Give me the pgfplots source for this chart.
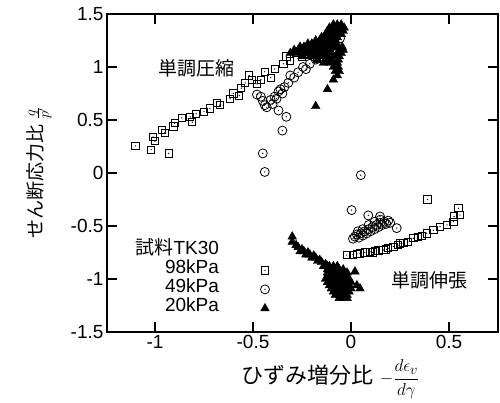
\documentclass[border=0pt]{standalone}
\usepackage{pgfplots}
\pgfplotsset{compat=1.18}
\usepackage{fontspec}
\setmainfont{Liberation Sans}
\newfontfamily\cjk{Noto Sans CJK JP}
\pgfdeclareplotmark{sqdot}{%
  \pgfpathrectangle{\pgfpoint{-\pgfplotmarksize}{-\pgfplotmarksize}}{\pgfpoint{2\pgfplotmarksize}{2\pgfplotmarksize}}%
  \pgfusepathqstroke
  \pgfpathcircle{\pgfpointorigin}{0.7pt}%
  \pgfusepathqfill
}
\pgfdeclareplotmark{circdot}{%
  \pgfpathcircle{\pgfpointorigin}{\pgfplotmarksize}%
  \pgfusepathqstroke
  \pgfpathcircle{\pgfpointorigin}{0.7pt}%
  \pgfusepathqfill
}
\pgfplotsset{tk/.style={forget plot, no marks, line width=1.2pt, black}}
\begin{document}
\begin{tikzpicture}[font=\fontsize{19}{22}\selectfont]
\begin{axis}[
  scale only axis, width=391pt, height=318pt,
  xmin=-1.245, xmax=0.75, ymin=-1.5, ymax=1.5,
  xtick={-1,-0.5,0,0.5}, xticklabels={-1,-0.5,0,0.5},
  ytick={-1.5,-1,-0.5,0,0.5,1,1.5}, yticklabels={-1.5,-1,-0.5,0,0.5,1,1.5},
  minor tick num=0, clip=false,
  tick align=inside, major tick length=10pt,
  major tick style={draw=none},
  axis line style={draw=none},
  every axis x label/.style={at={(axis description cs:0.5,0)}, anchor=center, yshift=-47pt, xshift=28pt},
  every axis y label/.style={at={(axis description cs:0,0.5)}, rotate=90, anchor=center, yshift=68pt},
  xlabel={\fontsize{22}{25}\selectfont{\cjk ひずみ増分比} \fontsize{19}{22}\selectfont$-\displaystyle\frac{d\epsilon_v}{d\gamma}$},
  ylabel={{\cjk せん断応力比} $\frac{q}{p'}$},
  legend style={draw=none, fill=none, at={(axis description cs:0.07,0.284)}, anchor=north west,
    inner sep=0pt, row sep=0pt, column sep=0pt,
    nodes={inner sep=1pt, text height=12pt, text depth=5pt}},
  legend cell align=right, legend plot pos=right,
  legend image code/.code={\path[draw=none] (0pt,0pt) -- (48pt,0pt); \draw[#1] plot coordinates {(45pt,0pt)};},
]
\addlegendimage{empty legend}
\addlegendentry{{\cjk 試料}TK30}
% 98 kPa squares
\addplot[only marks, mark=sqdot, mark size=3.6pt, line width=0.8pt, black] coordinates {
(-1.10,0.255) (-1.02,0.22) (-0.93,0.185) (-1.01,0.34) (-1.00,0.30) (-0.966,0.41) (-0.95,0.38)
(-0.906,0.44) (-0.90,0.47) (-0.864,0.52) (-0.82,0.53) (-0.81,0.48) (-0.79,0.56) (-0.75,0.58)
(-0.72,0.61) (-0.685,0.66) (-0.67,0.64) (-0.617,0.70) (-0.60,0.75) (-0.57,0.73) (-0.56,0.80)
(-0.54,0.85) (-0.52,0.92) (-0.506,0.88) (-0.48,0.84) (-0.46,0.88) (-0.44,0.955) (-0.41,0.90)
(-0.39,0.98) (-0.345,1.03) (-0.33,1.10) (-0.31,1.06) (-0.28,1.13) (-0.25,1.10) (-0.226,1.19)
(-0.20,1.14) (-0.175,1.08) (-0.15,1.15) (-0.12,1.18)
(-0.022,-0.774) (0.01,-0.77) (0.03,-0.765) (0.046,-0.758) (0.07,-0.75) (0.097,-0.742)
(0.12,-0.735) (0.14,-0.73) (0.165,-0.726) (0.19,-0.71) (0.216,-0.695) (0.24,-0.68)
(0.267,-0.663) (0.29,-0.65) (0.318,-0.616) (0.34,-0.60) (0.36,-0.59) (0.386,-0.569)
(0.42,-0.54) (0.454,-0.506) (0.49,-0.49) (0.522,-0.459) (0.526,-0.41) (0.556,-0.396)
(0.548,-0.333) (0.39,-0.25) (0.11,-0.75) (0.18,-0.72) (0.25,-0.665)
};
\addlegendentry{98kPa}
% 49 kPa circles
\addplot[only marks, mark=circdot, mark size=4.5pt, line width=0.8pt, black] coordinates {
(-0.48,0.74) (-0.46,0.72) (-0.45,0.68) (-0.44,0.64) (-0.41,0.69) (-0.39,0.72) (-0.37,0.77)
(-0.35,0.75) (-0.43,0.62) (-0.40,0.65) (-0.38,0.70) (-0.36,0.79) (-0.34,0.81)
(-0.37,0.59) (-0.33,0.53) (-0.35,0.40) (-0.45,0.185) (-0.44,0.01) (0.05,-0.02)
(-0.32,0.85) (-0.31,0.92) (-0.29,0.90) (-0.27,0.95) (-0.245,1.00) (-0.23,0.98) (-0.21,1.03)
(-0.18,1.07) (-0.16,1.09) (-0.14,1.12) (-0.12,1.15) (-0.10,1.19) (-0.08,1.22) (-0.056,1.27)
(0.003,-0.35) (0.088,-0.40) (0.148,-0.41) (0.233,-0.52)
(0.01,-0.62) (0.02,-0.60) (0.03,-0.58) (0.04,-0.61) (0.05,-0.57) (0.06,-0.59) (0.07,-0.55)
(0.08,-0.57) (0.09,-0.53) (0.10,-0.55) (0.11,-0.51) (0.12,-0.53) (0.13,-0.49) (0.14,-0.51)
(0.15,-0.47) (0.16,-0.49) (0.17,-0.46) (0.18,-0.48) (0.19,-0.45) (0.20,-0.47) (0.06,-0.53)
(0.09,-0.49) (0.12,-0.46) (0.035,-0.55) (0.15,-0.44)
};
\addlegendentry{49kPa}
% 20 kPa triangles
\addplot[only marks, mark=triangle*, mark size=5pt, black] coordinates {
(-0.09,1.40) (-0.07,1.40) (-0.05,1.40)
(-0.11,1.37) (-0.09,1.37) (-0.07,1.37) (-0.05,1.37) (-0.035,1.37)
(-0.12,1.34) (-0.10,1.34) (-0.08,1.34) (-0.06,1.34) (-0.04,1.34)
(-0.13,1.31) (-0.11,1.31) (-0.09,1.31) (-0.07,1.31) (-0.05,1.31)
(-0.15,1.28) (-0.13,1.28) (-0.11,1.28) (-0.09,1.28) (-0.07,1.28)
(-0.18,1.25) (-0.16,1.25) (-0.14,1.25) (-0.12,1.25) (-0.10,1.25) (-0.08,1.25)
(-0.22,1.22) (-0.20,1.22) (-0.18,1.22) (-0.16,1.22) (-0.14,1.22) (-0.12,1.22) (-0.10,1.22) (-0.08,1.22)
(-0.26,1.19) (-0.24,1.19) (-0.22,1.19) (-0.20,1.19) (-0.18,1.19) (-0.16,1.19) (-0.14,1.19) (-0.12,1.19) (-0.10,1.19) (-0.07,1.19) (-0.045,1.19)
(-0.29,1.16) (-0.27,1.16) (-0.25,1.16) (-0.23,1.16) (-0.21,1.16) (-0.19,1.16) (-0.17,1.16) (-0.15,1.16) (-0.13,1.16) (-0.11,1.16) (-0.06,1.16) (-0.04,1.16)
(-0.31,1.13) (-0.28,1.13) (-0.25,1.13) (-0.22,1.13) (-0.19,1.13) (-0.16,1.13) (-0.13,1.13) (-0.10,1.13) (-0.07,1.13) (-0.05,1.13)
(-0.25,1.10) (-0.21,1.10) (-0.18,1.10) (-0.15,1.10) (-0.12,1.10) (-0.08,1.10) (-0.06,1.10)
(-0.17,1.07) (-0.13,1.07) (-0.10,1.07) (-0.065,1.07)
(-0.14,1.04) (-0.11,1.04) (-0.07,1.04)
(-0.09,1.00) (-0.065,1.00) (-0.08,0.96) (-0.06,0.96) (-0.07,0.92)
(-0.09,0.88) (-0.12,0.79) (-0.18,0.63)
(-0.30,-0.60) (-0.30,-0.65) (-0.28,-0.68) (-0.27,-0.70) (-0.25,-0.72) (-0.24,-0.74) (-0.22,-0.75)
(-0.21,-0.77) (-0.19,-0.78) (-0.18,-0.80) (-0.16,-0.82) (-0.15,-0.84) (-0.13,-0.86) (-0.12,-0.88)
(-0.26,-0.74) (-0.23,-0.77) (-0.20,-0.80) (-0.17,-0.83) (-0.14,-0.88)
(-0.11,-0.88) (-0.09,-0.88) (-0.07,-0.88)
(-0.12,-0.91) (-0.10,-0.91) (-0.08,-0.91) (-0.06,-0.91) (-0.04,-0.91)
(-0.12,-0.94) (-0.10,-0.94) (-0.08,-0.94) (-0.06,-0.94) (-0.04,-0.94) (-0.02,-0.94) (0.02,-0.93)
(-0.12,-0.97) (-0.10,-0.97) (-0.08,-0.97) (-0.06,-0.97) (-0.04,-0.97) (-0.02,-0.97)
(-0.13,-1.00) (-0.11,-1.00) (-0.09,-1.00) (-0.07,-1.00) (-0.05,-1.00) (-0.03,-1.00) (-0.01,-1.00)
(-0.12,-1.03) (-0.10,-1.03) (-0.08,-1.03) (-0.06,-1.03) (-0.04,-1.03) (-0.02,-1.03) (0.0,-1.03)
(-0.11,-1.06) (-0.09,-1.06) (-0.07,-1.06) (-0.05,-1.06) (-0.03,-1.06) (-0.01,-1.06) (0.03,-1.06)
(-0.10,-1.09) (-0.08,-1.09) (-0.06,-1.09) (-0.04,-1.09) (-0.02,-1.09) (0.0,-1.09) (0.046,-1.09)
(-0.09,-1.12) (-0.07,-1.12) (-0.05,-1.12) (-0.03,-1.12) (-0.01,-1.12)
(-0.08,-1.15) (-0.06,-1.15) (-0.04,-1.15) (-0.02,-1.15)
(-0.06,-1.18) (-0.04,-1.18) (-0.02,-1.18)
};
\addlegendentry{20kPa}
% frame
\addplot[forget plot, no marks, line width=1.6pt, black, line join=miter] coordinates {
(-1.245,-1.5) (0.75,-1.5) (0.75,1.5) (-1.245,1.5) (-1.245,-1.5) (-1.0,-1.5)};
% ticks
\addplot[tk] coordinates {(-1,-1.5) (-1,-1.406)};
\addplot[tk] coordinates {(-0.5,-1.5) (-0.5,-1.406)};
\addplot[tk] coordinates {(0,-1.5) (0,-1.406)};
\addplot[tk] coordinates {(0.5,-1.5) (0.5,-1.406)};
\addplot[tk] coordinates {(-1,1.5) (-1,1.406)};
\addplot[tk] coordinates {(-0.5,1.5) (-0.5,1.406)};
\addplot[tk] coordinates {(0,1.5) (0,1.406)};
\addplot[tk] coordinates {(0.5,1.5) (0.5,1.406)};
\addplot[tk] coordinates {(-1.245,-1) (-1.194,-1)};
\addplot[tk] coordinates {(-1.245,-0.5) (-1.194,-0.5)};
\addplot[tk] coordinates {(-1.245,0) (-1.194,0)};
\addplot[tk] coordinates {(-1.245,0.5) (-1.194,0.5)};
\addplot[tk] coordinates {(-1.245,1) (-1.194,1)};
\addplot[tk] coordinates {(0.75,-1) (0.699,-1)};
\addplot[tk] coordinates {(0.75,-0.5) (0.699,-0.5)};
\addplot[tk] coordinates {(0.75,0) (0.699,0)};
\addplot[tk] coordinates {(0.75,0.5) (0.699,0.5)};
\addplot[tk] coordinates {(0.75,1) (0.699,1)};
\node[font=\cjk\fontsize{19}{22}\selectfont] at (axis cs:-0.79,0.99) {単調圧縮};
\node[font=\cjk\fontsize{19}{22}\selectfont] at (axis cs:0.40,-1.01) {単調伸張};
\end{axis}
\pgfresetboundingbox
\path ([shift={(-107pt,-71pt)}]current axis.south west) rectangle ([shift={(2pt,14pt)}]current axis.north east);
\end{tikzpicture}
\end{document}
